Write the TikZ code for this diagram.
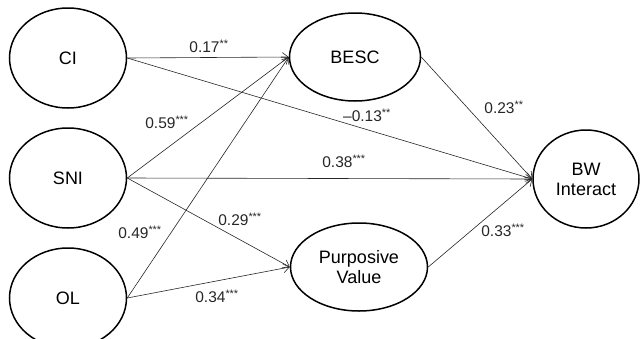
\documentclass[tikz,border=0pt]{standalone}
\usepackage{fontspec}
\setmainfont{Liberation Sans}
\usetikzlibrary{shapes.geometric,arrows.meta}

\tikzset{
  latent/.style={draw,ellipse,line width=1.5pt,inner sep=0pt,align=center,
    font=\fontsize{18}{20}\selectfont},
  path/.style={-{Straight Barb[length=6pt,width=9pt]},line width=0.6pt,black!85},
  coef/.style={font=\fontsize{15.5}{17}\selectfont,inner sep=0pt,text=black!85}
}
\newcommand{\sig}[1]{\textsuperscript{#1}}

\begin{document}
\begin{tikzpicture}[x=1pt,y=-1pt]
\useasboundingbox (0,0) rectangle (641,338);

% latent variables
\node[latent,minimum width=117pt,minimum height=100pt] (ci) at (68,58) {CI};
\node[latent,minimum width=117pt,minimum height=100pt] (sni) at (68,178) {SNI};
\node[latent,minimum width=117pt,minimum height=100pt] (ol) at (68,298) {OL};
\node[latent,minimum width=131pt,minimum height=88pt] (besc) at (355,57) {BESC};
\node[latent,minimum width=137pt,minimum height=88pt] (pv) at (359,267) {Purposive\\Value};
\node[latent,minimum width=106pt,minimum height=98pt] (bw) at (586,179) {BW\\Interact};

% paths
\draw[path] (ci.east) -- (besc.west);
\draw[path] (ci.east) -- (bw.west);
\draw[path] (sni.east) -- (besc.west);
\draw[path] (ol.east) -- (besc.west);
\draw[path] (sni.east) -- (bw.west);
\draw[path] (sni.east) -- (pv.west);
\draw[path] (ol.east) -- (pv.west);
\draw[path] (besc.east) -- (bw.west);
\draw[path] (pv.east) -- (bw.west);

% coefficients
\node[coef] (c1) at (209,46) {0.17\sig{**}};
\node[coef] (c2) at (367,115) {\textendash0.13\sig{**}};
\node[coef] (c3) at (167,122) {0.59\sig{***}};
\node[coef] (c4) at (344,161) {0.38\sig{***}};
\node[coef] (c5) at (240,219) {0.29\sig{***}};
\node[coef] (c6) at (140,232) {0.49\sig{***}};
\node[coef] (c7) at (217,296) {0.34\sig{***}};
\node[coef] (c8) at (504,107) {0.23\sig{**}};
\node[coef] (c9) at (503,230) {0.33\sig{***}};
\end{tikzpicture}
\end{document}
